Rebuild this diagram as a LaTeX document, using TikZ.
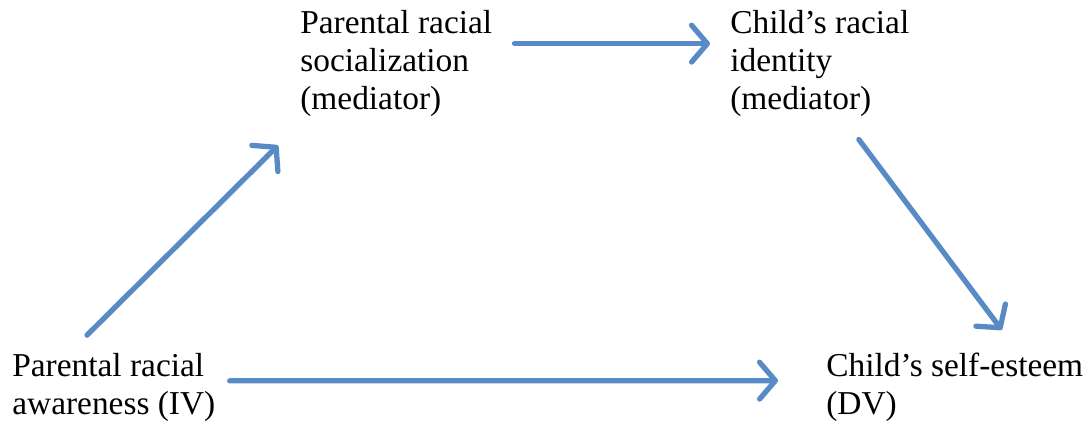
\documentclass[tikz,border=0pt]{standalone}
\usepackage{fontspec}
\setmainfont{Liberation Serif}
\usepackage{tikz}
\usetikzlibrary{arrows.meta}
\definecolor{linkblue}{RGB}{88,138,197}

\begin{document}
\begin{tikzpicture}[x=0.02cm, y=-0.02cm,
		label/.style={anchor=base west, align=left, inner sep=0pt, font=\fontsize{19}{21.8}\selectfont},
		link/.style={draw=linkblue, line width=3pt, line cap=round, -{Straight Barb[length=9pt, width=21pt, line cap=round, line join=round]}}]
		\useasboundingbox (0, 0) rectangle (1086, 422);
		\node[label] (aware) at (12, 415) {Parental racial\\awareness (IV)};
		\node[label] (social) at (300, 110) {Parental racial\\socialization\\(mediator)};
		\node[label] (identity) at (730, 110) {Child’s racial\\identity\\(mediator)};
		\node[label] (esteem) at (826, 415) {Child’s self-esteem\\(DV)};
		\draw[link] ([shift={(14, -7)}]aware.east) -- ([shift={(-48, -7)}]esteem.west);
		\draw[link] ([shift={(75, -18)}]aware.north west) -- ([shift={(-22, 28)}]social.south west);
		\draw[link] ([shift={(22, -20)}]social.east) -- ([shift={(-20, -20)}]identity.west);
		\draw[link] ([shift={(39, 22)}]identity.south) -- ([shift={(47, -23)}]esteem.north);
	\end{tikzpicture}
\end{document}
